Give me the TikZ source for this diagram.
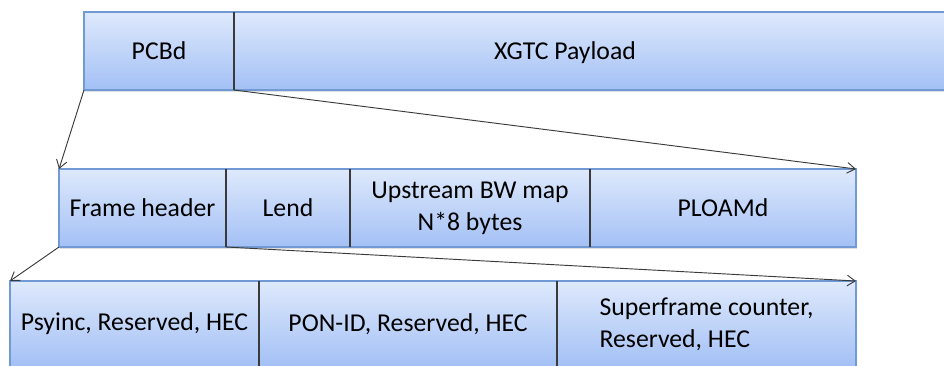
\documentclass[tikz,border=0pt]{standalone}
\usepackage{fontspec}
\setmainfont{Carlito}
\usetikzlibrary{positioning,shadows,arrows.meta}
\definecolor{boxtop}{HTML}{DEE9FC}
\definecolor{boxbottom}{HTML}{A3C0F5}
\definecolor{boxline}{HTML}{7199D3}
\definecolor{sepline}{HTML}{3A3A3A}
\tikzset{
  field/.style={draw=boxline, line width=0.8pt, top color=boxtop, bottom color=boxbottom,
    inner sep=0pt, outer sep=0pt, align=center, text=black,
    font=\fontsize{19.3}{24}\selectfont,
    drop shadow={shadow xshift=0.4pt, shadow yshift=-1.2pt, opacity=0.25}},
  divider/.style={draw=sepline, line width=0.8pt},
  zoomline/.style={draw=sepline, line width=0.7pt, -{Straight Barb[length=6pt,width=8pt]}},
}

\begin{document}
\begin{tikzpicture}[x=0.75pt,y=0.75pt]
  \useasboundingbox (0,0) rectangle (944,-365);

  % downstream frame: PCBd + payload
  \node[field, anchor=north west, minimum width=112.5pt, minimum height=58.5pt] (pcbd) at (84,-12) {PCBd};
  \node[field, right=0pt of pcbd, minimum width=537pt, minimum height=58.5pt,
    label={[xshift=-20.25pt, yshift=-1pt, font=\fontsize{19.3}{24}\selectfont]center:XGTC Payload}] (xgtc) {};

  % PCBd fields
  \node[field, anchor=north west, minimum width=125.25pt, minimum height=58.5pt] (framehdr) at (59,-169) {Frame header};
  \node[field, right=0pt of framehdr, minimum width=93pt, minimum height=58.5pt] (lend) {Lend};
  \node[field, right=0pt of lend, minimum width=180pt, minimum height=58.5pt] (bwmap) {Upstream BW map\\N*8 bytes};
  \node[field, right=0pt of bwmap, minimum width=199.5pt, minimum height=58.5pt] (ploamd) {PLOAMd};

  % frame header fields
  \node[field, anchor=north west, minimum width=186.75pt, minimum height=64.5pt] (psync) at (10,-281) {Psyinc, Reserved, HEC};
  \node[field, right=0pt of psync, minimum width=223.5pt, minimum height=64.5pt] (ponid) {PON-ID, Reserved, HEC};
  \node[field, right=0pt of ponid, minimum width=224.25pt, minimum height=64.5pt, align=left] (sfc) {Superframe counter,\\Reserved, HEC};

  % separators
  \draw[divider] (pcbd.north east) -- (pcbd.south east);
  \draw[divider] (framehdr.north east) -- (framehdr.south east);
  \draw[divider] (lend.north east) -- (lend.south east);
  \draw[divider] (bwmap.north east) -- (bwmap.south east);
  \draw[divider] (psync.north east) -- (psync.south east);
  \draw[divider] (ponid.north east) -- (ponid.south east);

  % zoom lines
  \draw[zoomline] (pcbd.south west) -- (framehdr.north west);
  \draw[zoomline] (pcbd.south east) -- (ploamd.north east);
  \draw[zoomline] (framehdr.south west) -- (psync.north west);
  \draw[zoomline] (framehdr.south east) -- (sfc.north east);
\end{tikzpicture}
\end{document}
